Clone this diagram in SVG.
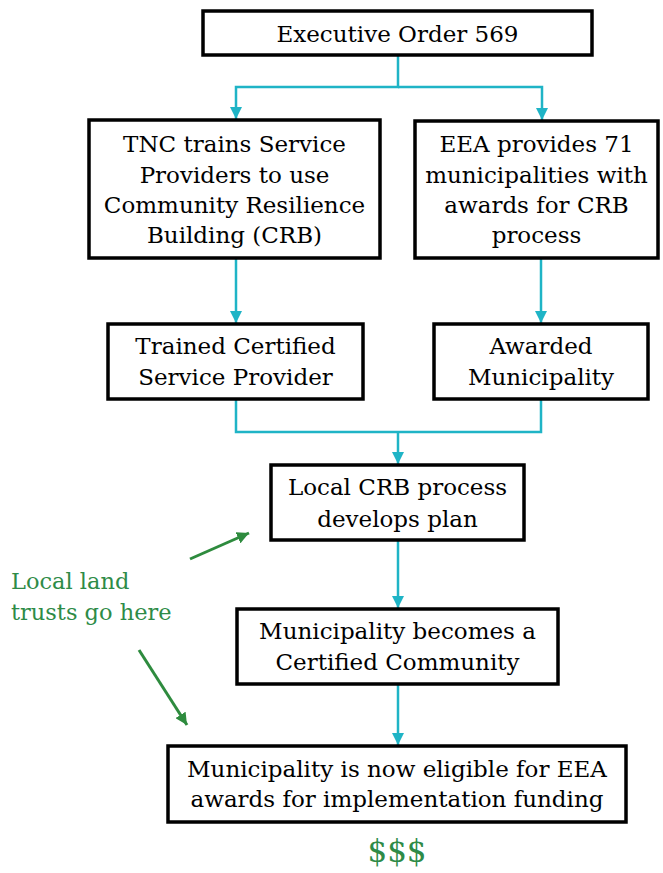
<svg xmlns="http://www.w3.org/2000/svg" width="663" height="873" viewBox="0 0 663 873">
<defs>
<style>
.box{fill:#fff;stroke:#000;stroke-width:3.5}
.t{font-family:"DejaVu Serif","Liberation Serif",serif;font-size:23px;fill:#000;text-anchor:middle}
.g{font-family:"DejaVu Serif","Liberation Serif",serif;font-size:22.5px;fill:#2e8b47}
.d{font-family:"DejaVu Serif","Liberation Serif",serif;font-size:31px;fill:#2e8b47;text-anchor:middle}
.c{fill:none;stroke:#1fb4c6;stroke-width:2.5}
.ga{fill:none;stroke:#2e8b3e;stroke-width:3}
</style>
<marker id="ah" viewBox="0 0 10 10" refX="10" refY="5" markerWidth="5" markerHeight="5" markerUnits="strokeWidth" orient="auto"><path d="M0,0 L10,5 L0,10 z" fill="#1fb4c6"/></marker>
<marker id="gh" viewBox="0 0 10 10" refX="10" refY="5" markerWidth="4" markerHeight="4" markerUnits="strokeWidth" orient="auto"><path d="M0,0 L10,5 L0,10 z" fill="#2e8b3e"/></marker>
</defs>
<rect width="663" height="873" fill="#fff"/>
<g id="connectors">
<path class="c" d="M398,55 V87 H236 V119" marker-end="url(#ah)"/>
<path class="c" d="M398,87 H542 V120" marker-end="url(#ah)"/>
<path class="c" d="M236,258 V323" marker-end="url(#ah)"/>
<path class="c" d="M541,258 V323" marker-end="url(#ah)"/>
<path class="c" d="M236,399 V432 H541 V399"/>
<path class="c" d="M398,432 V464" marker-end="url(#ah)"/>
<path class="c" d="M398,540 V608" marker-end="url(#ah)"/>
<path class="c" d="M398,684 V745" marker-end="url(#ah)"/>
<path class="ga" d="M190,559 L249,533" marker-end="url(#gh)"/>
<path class="ga" d="M139,650 L187,725" marker-end="url(#gh)"/>
</g>
<g id="n1"><rect class="box" x="203" y="11" width="389" height="44"/><text class="t" x="397.5" y="42">Executive Order 569</text></g>
<g id="n2"><rect class="box" x="89" y="120" width="291" height="138"/>
<text class="t" x="234.5" y="152">TNC trains Service</text>
<text class="t" x="234.5" y="183">Providers to use</text>
<text class="t" x="234.5" y="213">Community Resilience</text>
<text class="t" x="234.5" y="243">Building (CRB)</text></g>
<g id="n3"><rect class="box" x="415" y="121" width="243" height="137"/>
<text class="t" x="536.5" y="152">EEA provides 71</text>
<text class="t" x="536.5" y="183">municipalities with</text>
<text class="t" x="536.5" y="213">awards for CRB</text>
<text class="t" x="536.5" y="243">process</text></g>
<g id="n4"><rect class="box" x="108" y="324" width="255" height="75"/>
<text class="t" x="235.5" y="354">Trained Certified</text>
<text class="t" x="235.5" y="385">Service Provider</text></g>
<g id="n5"><rect class="box" x="434" y="324" width="214" height="75"/>
<text class="t" x="541" y="354">Awarded</text>
<text class="t" x="541" y="385">Municipality</text></g>
<g id="n6"><rect class="box" x="271" y="465" width="253" height="75"/>
<text class="t" x="397.5" y="495">Local CRB process</text>
<text class="t" x="397.5" y="527">develops plan</text></g>
<g id="n7"><rect class="box" x="237" y="609" width="321" height="75"/>
<text class="t" x="397.5" y="639">Municipality becomes a</text>
<text class="t" x="397.5" y="670">Certified Community</text></g>
<g id="n8"><rect class="box" x="168" y="746" width="458" height="76"/>
<text class="t" x="397" y="777">Municipality is now eligible for EEA</text>
<text class="t" x="397" y="807">awards for implementation funding</text></g>
<g id="note"><text class="g" x="11" y="589">Local land</text><text class="g" x="11" y="620">trusts go here</text>
<text class="d" x="397" y="862">$$$</text></g>
</svg>
